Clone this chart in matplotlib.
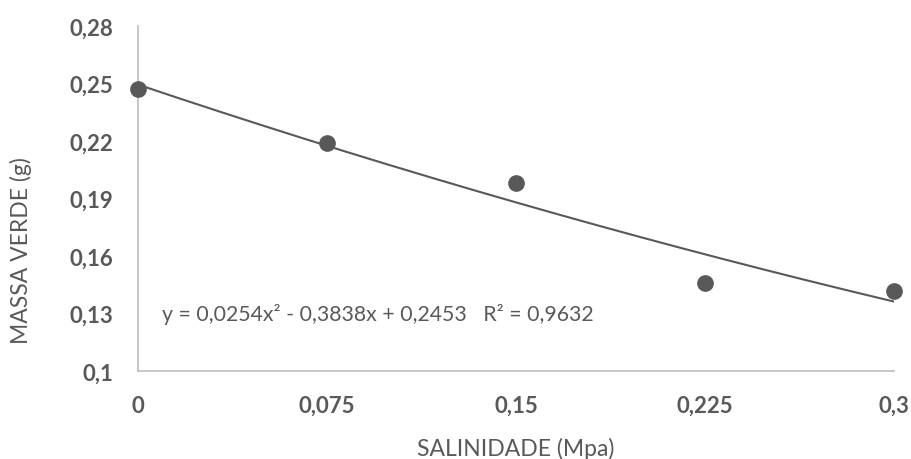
import matplotlib

matplotlib.use("Agg")
import matplotlib.pyplot as plt
import numpy as np

# salinity levels (MPa) and green mass (g)
salinidade = [0, 0.075, 0.15, 0.225, 0.3]
massa_verde = [0.247, 0.219, 0.198, 0.146, 0.142]

x_ticks = [0, 0.075, 0.15, 0.225, 0.3]
x_labels = ["0", "0,075", "0,15", "0,225", "0,3"]
y_ticks = [0.1, 0.13, 0.16, 0.19, 0.22, 0.25, 0.28]
y_labels = ["0,1", "0,13", "0,16", "0,19", "0,22", "0,25", "0,28"]

equacao = "y = 0,0254x² - 0,3838x + 0,2453   R² = 0,9632"

GREY = "#595959"
plt.rcParams["font.family"] = ["Lato", "DejaVu Sans"]

fig = plt.figure(figsize=(9.11, 4.60), dpi=100)
ax = fig.add_axes([0.1515, 0.1913, 0.8298, 0.75])

# polynomial trendline (order 2), fitted from the points
coef = np.polyfit(salinidade, massa_verde, 2)
xs = np.linspace(min(salinidade), max(salinidade), 200)
ax.plot(xs, np.polyval(coef, xs), color=GREY, lw=1.5, zorder=2)
ax.plot(salinidade, massa_verde, "o", color=GREY, ms=11, zorder=3, clip_on=False)

ax.set_xlim(0, 0.3)
ax.set_ylim(0.1, 0.28)
ax.set_xticks(x_ticks)
ax.set_xticklabels(x_labels)
ax.set_yticks(y_ticks)
ax.set_yticklabels(y_labels)
ax.tick_params(length=0, labelsize=16, labelcolor=GREY)
ax.tick_params(axis="y", pad=18)
ax.tick_params(axis="x", pad=17)
for lab in ax.get_xticklabels() + ax.get_yticklabels():
    lab.set_fontweight("bold")

for side in ["top", "right"]:
    ax.spines[side].set_visible(False)
for side in ["left", "bottom"]:
    ax.spines[side].set_color("#bfbfbf")
    ax.spines[side].set_linewidth(1.2)

ax.set_xlabel("SALINIDADE (Mpa)", fontsize=16.5, color=GREY, labelpad=15)
ax.set_ylabel("MASSA VERDE (g)", fontsize=16.5, color=GREY)
# Excel put the y title a bit below the middle of the axis
ax.yaxis.set_label_coords(-0.14, 0.351)

ax.text(0.032, 0.168, equacao, transform=ax.transAxes, fontsize=15.3,
        color=GREY, va="center", ha="left")

fig.savefig("out.png", dpi=100)
plt.close(fig)
